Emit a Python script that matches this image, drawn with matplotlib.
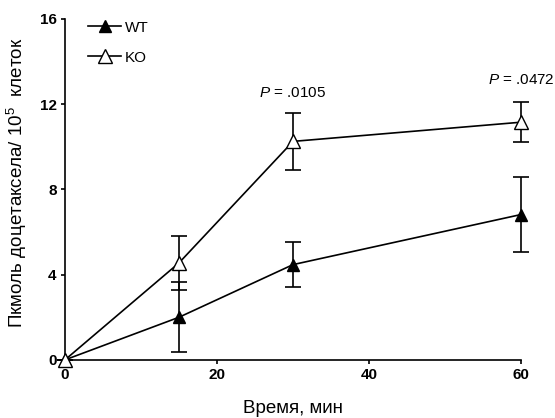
import matplotlib
matplotlib.use("Agg")
import matplotlib.pyplot as plt
from matplotlib.lines import Line2D

plt.rcParams['font.family'] = ['Liberation Sans', 'DejaVu Sans']
plt.rcParams['mathtext.fontset'] = 'custom'
plt.rcParams['mathtext.rm'] = 'Liberation Sans'
plt.rcParams['mathtext.it'] = 'Liberation Sans:italic'

time = [0, 15, 30, 60]
wt_mean = [0.0, 2.0, 4.47, 6.82]
wt_err = [0.0, 1.65, 1.05, 1.75]
ko_mean = [0.0, 4.55, 10.25, 11.15]
ko_err = [0.0, 1.25, 1.35, 0.95]
x_ticks = [0, 20, 40, 60]
y_ticks = [0, 4, 8, 12, 16]
p_labels = [".0105", ".0472"]
p_x = [30, 60]
p_y = [12.2, 12.8]

fig = plt.figure(figsize=(5.55, 4.18), dpi=100)
ax = fig.add_axes([0.117, 0.139, 0.822, 0.816])

lw = 1.2
ax.errorbar(time, wt_mean, yerr=wt_err, color='black', marker='^', markersize=9,
            markerfacecolor='black', markeredgecolor='black', lw=lw, elinewidth=lw,
            capsize=5.5, capthick=lw, clip_on=False, zorder=3)
ax.errorbar(time, ko_mean, yerr=ko_err, color='black', marker='^', markersize=10,
            markerfacecolor='white', markeredgecolor='black', lw=lw, elinewidth=lw,
            capsize=5.5, capthick=lw, clip_on=False, zorder=4)

ax.set_xlim(0, 60)
ax.set_ylim(0, 16)
ax.set_xticks(x_ticks)
ax.set_yticks(y_ticks)
for s in ['top', 'right']:
    ax.spines[s].set_visible(False)
for s in ['left', 'bottom']:
    ax.spines[s].set_linewidth(1.2)
ax.tick_params(direction='out', length=3, width=1.2, labelsize=11, pad=3)
for lab in ax.get_xticklabels() + ax.get_yticklabels():
    lab.set_fontweight('bold')

ax.set_xlabel('Время, мин', fontsize=13.5, labelpad=13)
ax.set_ylabel('Пкмоль доцетаксела/ 10$^5$  клеток', fontsize=13.5, labelpad=5)
ax.yaxis.set_label_coords(-0.078, 0.52)

for px, py, pl in zip(p_x, p_y, p_labels):
    ax.text(px, py, r'$\it{P}$ = ' + pl, ha='center', va='bottom', fontsize=11)

handles = [
    Line2D([], [], color='black', lw=lw, marker='^', markersize=9,
           markerfacecolor='black', markeredgecolor='black'),
    Line2D([], [], color='black', lw=lw, marker='^', markersize=10,
           markerfacecolor='white', markeredgecolor='black'),
]
ax.legend(handles, ['WT', 'KO'], loc='upper left', bbox_to_anchor=(0.02, 1.035),
          frameon=False, fontsize=11, handlelength=2.2, handletextpad=0.2,
          labelspacing=1.05)

fig.savefig('out.png', dpi=100)
